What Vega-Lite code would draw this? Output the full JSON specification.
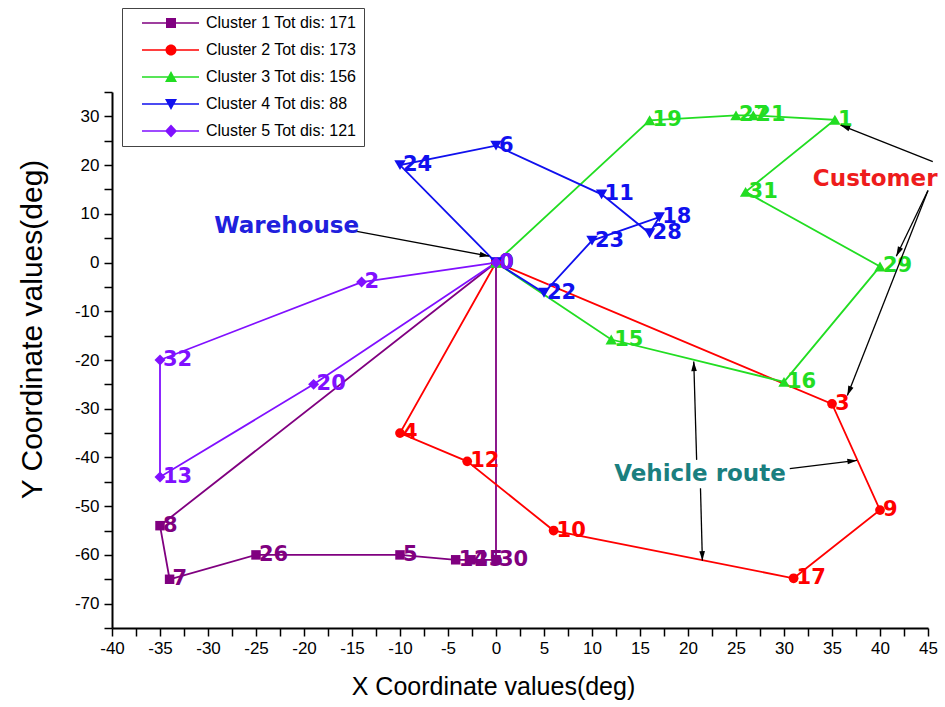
{
  "$schema": "https://vega.github.io/schema/vega-lite/v6.json",
  "width": 816,
  "height": 536,
  "autosize": {"type": "none"},
  "padding": {"left": 112, "top": 92, "right": 17, "bottom": 79},
  "background": "white",
  "config": {"view": {"stroke": null}, "font": "Liberation Sans"},
  "datasets": {
    "routes": [
      {"cluster": "Cluster 1 Tot dis: 171", "step": 0, "label": "0", "x": 0, "y": 0},
      {"cluster": "Cluster 1 Tot dis: 171", "step": 1, "label": "8", "x": -35, "y": -54},
      {"cluster": "Cluster 1 Tot dis: 171", "step": 2, "label": "7", "x": -34, "y": -65},
      {"cluster": "Cluster 1 Tot dis: 171", "step": 3, "label": "26", "x": -25, "y": -60},
      {"cluster": "Cluster 1 Tot dis: 171", "step": 4, "label": "5", "x": -10, "y": -60},
      {"cluster": "Cluster 1 Tot dis: 171", "step": 5, "label": "14", "x": -4.2, "y": -61},
      {"cluster": "Cluster 1 Tot dis: 171", "step": 6, "label": "25", "x": -2.6, "y": -61},
      {"cluster": "Cluster 1 Tot dis: 171", "step": 7, "label": "30", "x": 0, "y": -61},
      {"cluster": "Cluster 1 Tot dis: 171", "step": 8, "label": "", "x": 0, "y": 0},
      {"cluster": "Cluster 2 Tot dis: 173", "step": 0, "label": "0", "x": 0, "y": 0},
      {"cluster": "Cluster 2 Tot dis: 173", "step": 1, "label": "4", "x": -10, "y": -35},
      {"cluster": "Cluster 2 Tot dis: 173", "step": 2, "label": "12", "x": -3, "y": -40.8},
      {"cluster": "Cluster 2 Tot dis: 173", "step": 3, "label": "10", "x": 6, "y": -55},
      {"cluster": "Cluster 2 Tot dis: 173", "step": 4, "label": "17", "x": 31, "y": -64.8},
      {"cluster": "Cluster 2 Tot dis: 173", "step": 5, "label": "9", "x": 40, "y": -50.8},
      {"cluster": "Cluster 2 Tot dis: 173", "step": 6, "label": "3", "x": 35, "y": -29},
      {"cluster": "Cluster 2 Tot dis: 173", "step": 7, "label": "", "x": 0, "y": 0},
      {"cluster": "Cluster 3 Tot dis: 156", "step": 0, "label": "0", "x": 0, "y": 0},
      {"cluster": "Cluster 3 Tot dis: 156", "step": 1, "label": "19", "x": 16, "y": 29.2},
      {"cluster": "Cluster 3 Tot dis: 156", "step": 2, "label": "27", "x": 25, "y": 30.2},
      {"cluster": "Cluster 3 Tot dis: 156", "step": 3, "label": "21", "x": 26.8, "y": 30.2},
      {"cluster": "Cluster 3 Tot dis: 156", "step": 4, "label": "1", "x": 35.3, "y": 29.3},
      {"cluster": "Cluster 3 Tot dis: 156", "step": 5, "label": "31", "x": 26, "y": 14.5},
      {"cluster": "Cluster 3 Tot dis: 156", "step": 6, "label": "29", "x": 40, "y": -0.8},
      {"cluster": "Cluster 3 Tot dis: 156", "step": 7, "label": "16", "x": 30, "y": -24.5},
      {"cluster": "Cluster 3 Tot dis: 156", "step": 8, "label": "15", "x": 12, "y": -15.8},
      {"cluster": "Cluster 3 Tot dis: 156", "step": 9, "label": "", "x": 0, "y": 0},
      {"cluster": "Cluster 4 Tot dis:  88", "step": 0, "label": "0", "x": 0, "y": 0},
      {"cluster": "Cluster 4 Tot dis:  88", "step": 1, "label": "24", "x": -10, "y": 20},
      {"cluster": "Cluster 4 Tot dis:  88", "step": 2, "label": "6", "x": 0, "y": 24},
      {"cluster": "Cluster 4 Tot dis:  88", "step": 3, "label": "11", "x": 11, "y": 14},
      {"cluster": "Cluster 4 Tot dis:  88", "step": 4, "label": "28", "x": 16, "y": 6},
      {"cluster": "Cluster 4 Tot dis:  88", "step": 5, "label": "18", "x": 17, "y": 9.3},
      {"cluster": "Cluster 4 Tot dis:  88", "step": 6, "label": "23", "x": 10, "y": 4.5},
      {"cluster": "Cluster 4 Tot dis:  88", "step": 7, "label": "22", "x": 5, "y": -6.2},
      {"cluster": "Cluster 4 Tot dis:  88", "step": 8, "label": "", "x": 0, "y": 0},
      {"cluster": "Cluster 5 Tot dis: 121", "step": 0, "label": "0", "x": 0, "y": 0},
      {"cluster": "Cluster 5 Tot dis: 121", "step": 1, "label": "2", "x": -14, "y": -4},
      {"cluster": "Cluster 5 Tot dis: 121", "step": 2, "label": "32", "x": -35, "y": -20},
      {"cluster": "Cluster 5 Tot dis: 121", "step": 3, "label": "13", "x": -35, "y": -44},
      {"cluster": "Cluster 5 Tot dis: 121", "step": 4, "label": "20", "x": -19, "y": -25},
      {"cluster": "Cluster 5 Tot dis: 121", "step": 5, "label": "", "x": 0, "y": 0}
    ],
    "arrows": [
      {"x": -0.7, "y": 1.3, "xs": -14.5, "ys": 6.4},
      {"x": 35.9, "y": 28.2, "xs": 45.5, "ys": 20.7},
      {"x": 41.7, "y": 1.3, "xs": 45.0, "ys": 14.8},
      {"x": 36.6, "y": -27.3, "xs": 45.0, "ys": 14.8},
      {"x": 20.6, "y": -20.3, "xs": 20.9, "ys": -40.5},
      {"x": 21.5, "y": -61.2, "xs": 21.3, "ys": -46.3},
      {"x": 37.6, "y": -40.6, "xs": 30.6, "ys": -42.3}
    ],
    "notes": [
      {"note": "Warehouse", "x": -21.8, "y": 7.6},
      {"note": "Customer", "x": 39.5, "y": 17.2},
      {"note": "Vehicle route", "x": 21.25, "y": -43.3}
    ]
  },
  "encoding": {
    "x": {
      "field": "x",
      "type": "quantitative",
      "scale": {"domain": [-40, 45], "nice": false, "zero": false},
      "axis": {
        "title": "X Coordinate values(deg)",
        "values": [-40, -37.5, -35, -32.5, -30, -27.5, -25, -22.5, -20, -17.5, -15, -12.5, -10, -7.5, -5, -2.5, 0, 2.5, 5, 7.5, 10, 12.5, 15, 17.5, 20, 22.5, 25, 27.5, 30, 32.5, 35, 37.5, 40, 42.5, 45],
        "labelExpr": "datum.value % 5 === 0 ? '' + datum.value : ''",
        "labelOverlap": false,
        "labelBound": false,
        "labelFlush": false,
        "grid": false,
        "domainColor": "black",
        "domainWidth": 2,
        "tickColor": "black",
        "tickWidth": 1.5,
        "tickSize": 8,
        "labelFont": "Liberation Sans",
        "labelFontSize": 17,
        "labelColor": "black",
        "labelPadding": 4,
        "titleFont": "Liberation Sans",
        "titleFontSize": 25,
        "titleFontWeight": "normal",
        "titleColor": "black",
        "titlePadding": 18,
        "titleX": 381,
        "encode": {"ticks": {"update": {"y2": {"signal": "datum.value % 5 === 0 ? 8 : 4"}}}}
      }
    },
    "y": {
      "field": "y",
      "type": "quantitative",
      "scale": {"domain": [-75, 35], "nice": false, "zero": false},
      "axis": {
        "title": "Y Coordinate values(deg)",
        "values": [-75, -70, -65, -60, -55, -50, -45, -40, -35, -30, -25, -20, -15, -10, -5, 0, 5, 10, 15, 20, 25, 30, 35],
        "labelExpr": "datum.value % 10 === 0 ? '' + datum.value : ''",
        "labelOverlap": false,
        "labelBound": false,
        "labelFlush": false,
        "grid": false,
        "domainColor": "black",
        "domainWidth": 2,
        "tickColor": "black",
        "tickWidth": 1.5,
        "tickSize": 8,
        "labelFont": "Liberation Sans",
        "labelFontSize": 17,
        "labelColor": "black",
        "labelPadding": 5,
        "titleFont": "Liberation Sans",
        "titleFontSize": 30,
        "titleFontWeight": "normal",
        "titleColor": "black",
        "titlePadding": 27,
        "titleY": 237,
        "encode": {"ticks": {"update": {"x2": {"signal": "datum.value % 10 === 0 ? -8 : -4"}}}}
      }
    }
  },
  "layer": [
    {
      "data": {"name": "routes"},
      "mark": {"type": "line", "strokeWidth": 1.8},
      "encoding": {
        "order": {"field": "step", "type": "quantitative"},
        "color": {
          "field": "cluster",
          "type": "nominal",
          "scale": {
            "domain": ["Cluster 1 Tot dis: 171", "Cluster 2 Tot dis: 173", "Cluster 3 Tot dis: 156", "Cluster 4 Tot dis:  88", "Cluster 5 Tot dis: 121"],
            "range": ["#800080", "#ff0000", "#22dd22", "#1010ee", "#8010ff"]
          },
          "legend": {
            "orient": "none",
            "legendX": 10,
            "legendY": -84,
            "title": null,
            "labelFont": "Liberation Sans Narrow, Liberation Sans",
            "labelFontSize": 16,
            "labelColor": "black",
            "labelLimit": 500,
            "symbolSize": 100,
            "labelOffset": 61,
            "rowPadding": 11,
            "padding": 7,
            "strokeColor": "#444444",
            "fillColor": "white",
            "symbolStrokeWidth": 0
          }
        }
      }
    },
    {
      "data": {"name": "routes"},
      "transform": [{"filter": "datum.label !== ''"}],
      "mark": {"type": "text", "align": "left", "baseline": "middle", "dx": 3, "font": "DejaVu Sans", "fontWeight": "bold", "fontSize": 21},
      "encoding": {
        "text": {"field": "label"},
        "color": {"field": "cluster", "type": "nominal"}
      }
    },
    {
      "data": {"name": "routes"},
      "transform": [{"filter": "datum.cluster === 'Cluster 1 Tot dis: 171'"}],
      "mark": {"type": "point", "shape": "square", "filled": true, "size": 90, "opacity": 1},
      "encoding": {"color": {"field": "cluster", "type": "nominal"}}
    },
    {
      "data": {"name": "routes"},
      "transform": [{"filter": "datum.cluster === 'Cluster 2 Tot dis: 173'"}],
      "mark": {"type": "point", "shape": "circle", "filled": true, "size": 95, "opacity": 1},
      "encoding": {"color": {"field": "cluster", "type": "nominal"}}
    },
    {
      "data": {"name": "routes"},
      "transform": [{"filter": "datum.cluster === 'Cluster 3 Tot dis: 156'"}],
      "mark": {"type": "point", "shape": "triangle-up", "filled": true, "size": 130, "opacity": 1},
      "encoding": {"color": {"field": "cluster", "type": "nominal"}}
    },
    {
      "data": {"name": "routes"},
      "transform": [{"filter": "datum.cluster === 'Cluster 4 Tot dis:  88'"}],
      "mark": {"type": "point", "shape": "triangle-down", "filled": true, "size": 130, "opacity": 1},
      "encoding": {"color": {"field": "cluster", "type": "nominal"}}
    },
    {
      "data": {"name": "routes"},
      "transform": [{"filter": "datum.cluster === 'Cluster 5 Tot dis: 121'"}],
      "mark": {"type": "point", "shape": "diamond", "filled": true, "size": 120, "opacity": 1},
      "encoding": {"color": {"field": "cluster", "type": "nominal"}}
    },
    {
      "data": {"name": "routes"},
      "transform": [{"filter": "false"}],
      "mark": {"type": "point", "filled": true, "size": 100, "opacity": 1},
      "encoding": {
        "color": {"field": "cluster", "type": "nominal"},
        "shape": {
          "field": "cluster",
          "type": "nominal",
          "scale": {
            "domain": ["Cluster 1 Tot dis: 171", "Cluster 2 Tot dis: 173", "Cluster 3 Tot dis: 156", "Cluster 4 Tot dis:  88", "Cluster 5 Tot dis: 121"],
            "range": [
              "M1,-0.16H12.4V0.16H1Z M5.8,-1H7.8V1H5.8Z",
              "M1,-0.16H12.4V0.16H1Z M7.9,0A1.1,1.1,0,1,1,5.7,0A1.1,1.1,0,1,1,7.9,0Z",
              "M1,-0.16H12.4V0.16H1Z M6.8,-1.2L8,1L5.6,1Z",
              "M1,-0.16H12.4V0.16H1Z M6.8,1.2L5.6,-1L8,-1Z",
              "M1,-0.16H12.4V0.16H1Z M6.8,-1.3L8,0L6.8,1.3L5.6,0Z"
            ]
          },
          "legend": null
        }
      }
    },
    {
      "data": {"name": "arrows"},
      "mark": {"type": "rule", "color": "black", "strokeWidth": 1.3},
      "encoding": {
        "x2": {"field": "xs"},
        "y2": {"field": "ys"}
      }
    },
    {
      "data": {"name": "arrows"},
      "transform": [{"calculate": "atan2((datum.x - datum.xs) * 9.6, (datum.y - datum.ys) * 4.87) * 180 / PI", "as": "ang"}],
      "mark": {"type": "point", "shape": "M0,0L-0.7,2.4L0.7,2.4Z", "filled": true, "color": "black", "size": 64, "opacity": 1},
      "encoding": {
        "angle": {"field": "ang", "type": "quantitative", "scale": null}
      }
    },
    {
      "data": {"name": "notes"},
      "mark": {"type": "text", "align": "center", "baseline": "middle", "font": "DejaVu Sans", "fontWeight": "bold", "fontSize": 23},
      "encoding": {
        "text": {"field": "note"},
        "fill": {
          "field": "note",
          "type": "nominal",
          "scale": {"domain": ["Warehouse", "Customer", "Vehicle route"], "range": ["#2020dd", "#ee1c1c", "#1a7f7f"]},
          "legend": null
        }
      }
    }
  ]
}
